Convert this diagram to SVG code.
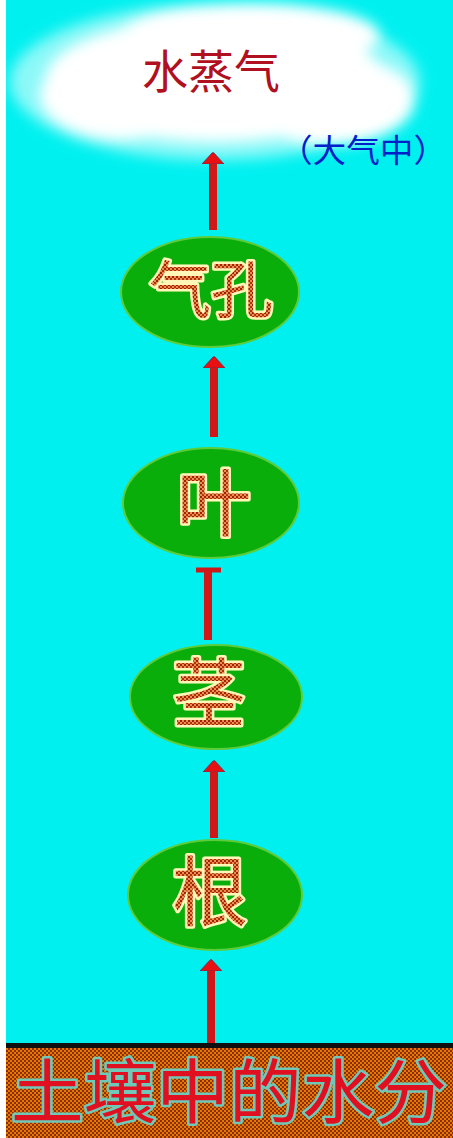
<svg xmlns="http://www.w3.org/2000/svg" width="453" height="1138" viewBox="0 0 453 1138">
<style>
.node{fill:#0aae0a;stroke:#5ccc3a;stroke-width:2}
.nt{font-family:"Noto Sans CJK SC","Noto Sans CJK JP",sans-serif;font-weight:normal;fill:url(#dot);stroke:#fff6b8;stroke-width:5;paint-order:stroke;stroke-linejoin:round;text-anchor:middle}
.shaft{stroke:#d01818;stroke-width:8}
</style>
<defs>
<pattern id="dot" width="4" height="4" patternUnits="userSpaceOnUse">
<rect width="4" height="4" fill="#e89050"/>
<rect width="2" height="2" fill="#a02000"/>
<rect x="2" y="2" width="2" height="2" fill="#b03010"/>
</pattern>
<pattern id="soil" width="4" height="4" patternUnits="userSpaceOnUse">
<rect width="4" height="4" fill="#e87800"/>
<rect width="2" height="2" fill="#8a3000"/>
<rect x="2" y="2" width="2" height="2" fill="#8a3000"/>
</pattern>
<marker id="ah" markerWidth="12" markerHeight="24" refX="1" refY="12" orient="auto" markerUnits="userSpaceOnUse" viewBox="0 0 12 24">
<path d="M0,1 L11,11 Q12,12 11,13 L0,23 Z" fill="#e81010" stroke="#603060" stroke-width="0.8"/>
</marker>
<filter id="blur" x="-20%" y="-30%" width="140%" height="160%"><feGaussianBlur stdDeviation="7"/></filter>
</defs>
<rect x="0" y="0" width="453" height="1138" fill="#ffffff"/>
<rect x="6" y="0" width="447" height="1044" fill="#00f0f0"/>
<g id="cloud">
<g filter="url(#blur)" fill="#ffffff">
<ellipse cx="215" cy="82" rx="205" ry="78" opacity="0.55"/>
<ellipse cx="215" cy="80" rx="170" ry="62"/>
<ellipse cx="330" cy="100" rx="85" ry="45"/>
<ellipse cx="250" cy="35" rx="130" ry="32"/>
<ellipse cx="120" cy="95" rx="80" ry="45"/>
</g>
<text x="211" y="88" font-family="'Noto Sans CJK SC','Noto Sans CJK JP',sans-serif" font-size="46" fill="#b01020" text-anchor="middle">水蒸气</text>
<text x="363" y="162" font-family="'Noto Sans CJK SC','Noto Sans CJK JP',sans-serif" font-size="32" fill="#0020c8" text-anchor="middle" textLength="168" lengthAdjust="spacingAndGlyphs">（大气中）</text>
</g>
<g id="connectors" fill="none">
<line class="shaft" x1="213" y1="230" x2="213" y2="163" marker-end="url(#ah)"/>
<line class="shaft" x1="214" y1="437" x2="214" y2="367" marker-end="url(#ah)"/>
<line class="shaft" x1="208" y1="640" x2="208" y2="568"/>
<line x1="196" y1="570" x2="221" y2="570" stroke="#d01818" stroke-width="5"/>
<line class="shaft" x1="214" y1="838" x2="214" y2="771" marker-end="url(#ah)"/>
<line class="shaft" x1="211" y1="1044" x2="211" y2="970" marker-end="url(#ah)"/>
</g>
<g id="stoma">
<ellipse class="node" cx="210" cy="292" rx="89" ry="55"/>
<text class="nt" x="211" y="313" font-size="62">气孔</text>
</g>
<g id="leaf">
<ellipse class="node" cx="211" cy="503" rx="88" ry="55"/>
<text class="nt" x="214" y="530" font-size="74">叶</text>
</g>
<g id="stem">
<ellipse class="node" cx="216" cy="697" rx="86" ry="52"/>
<text class="nt" x="209" y="720" font-size="74">茎</text>
</g>
<g id="root">
<ellipse class="node" cx="215" cy="895" rx="87" ry="55"/>
<text class="nt" x="210" y="920" font-size="76">根</text>
</g>
<g id="soil-band">
<rect x="6" y="1044" width="447" height="94" fill="url(#soil)"/>
<rect x="6" y="1043" width="447" height="5" fill="#101010"/>
<text x="229" y="1118" font-family="'Noto Sans CJK SC','Noto Sans CJK JP',sans-serif" font-size="70" fill="#e01020" stroke="#70c8b8" stroke-width="5" paint-order="stroke" stroke-linejoin="round" text-anchor="middle" textLength="436" lengthAdjust="spacingAndGlyphs">土壤中的水分</text>
</g>
</svg>
